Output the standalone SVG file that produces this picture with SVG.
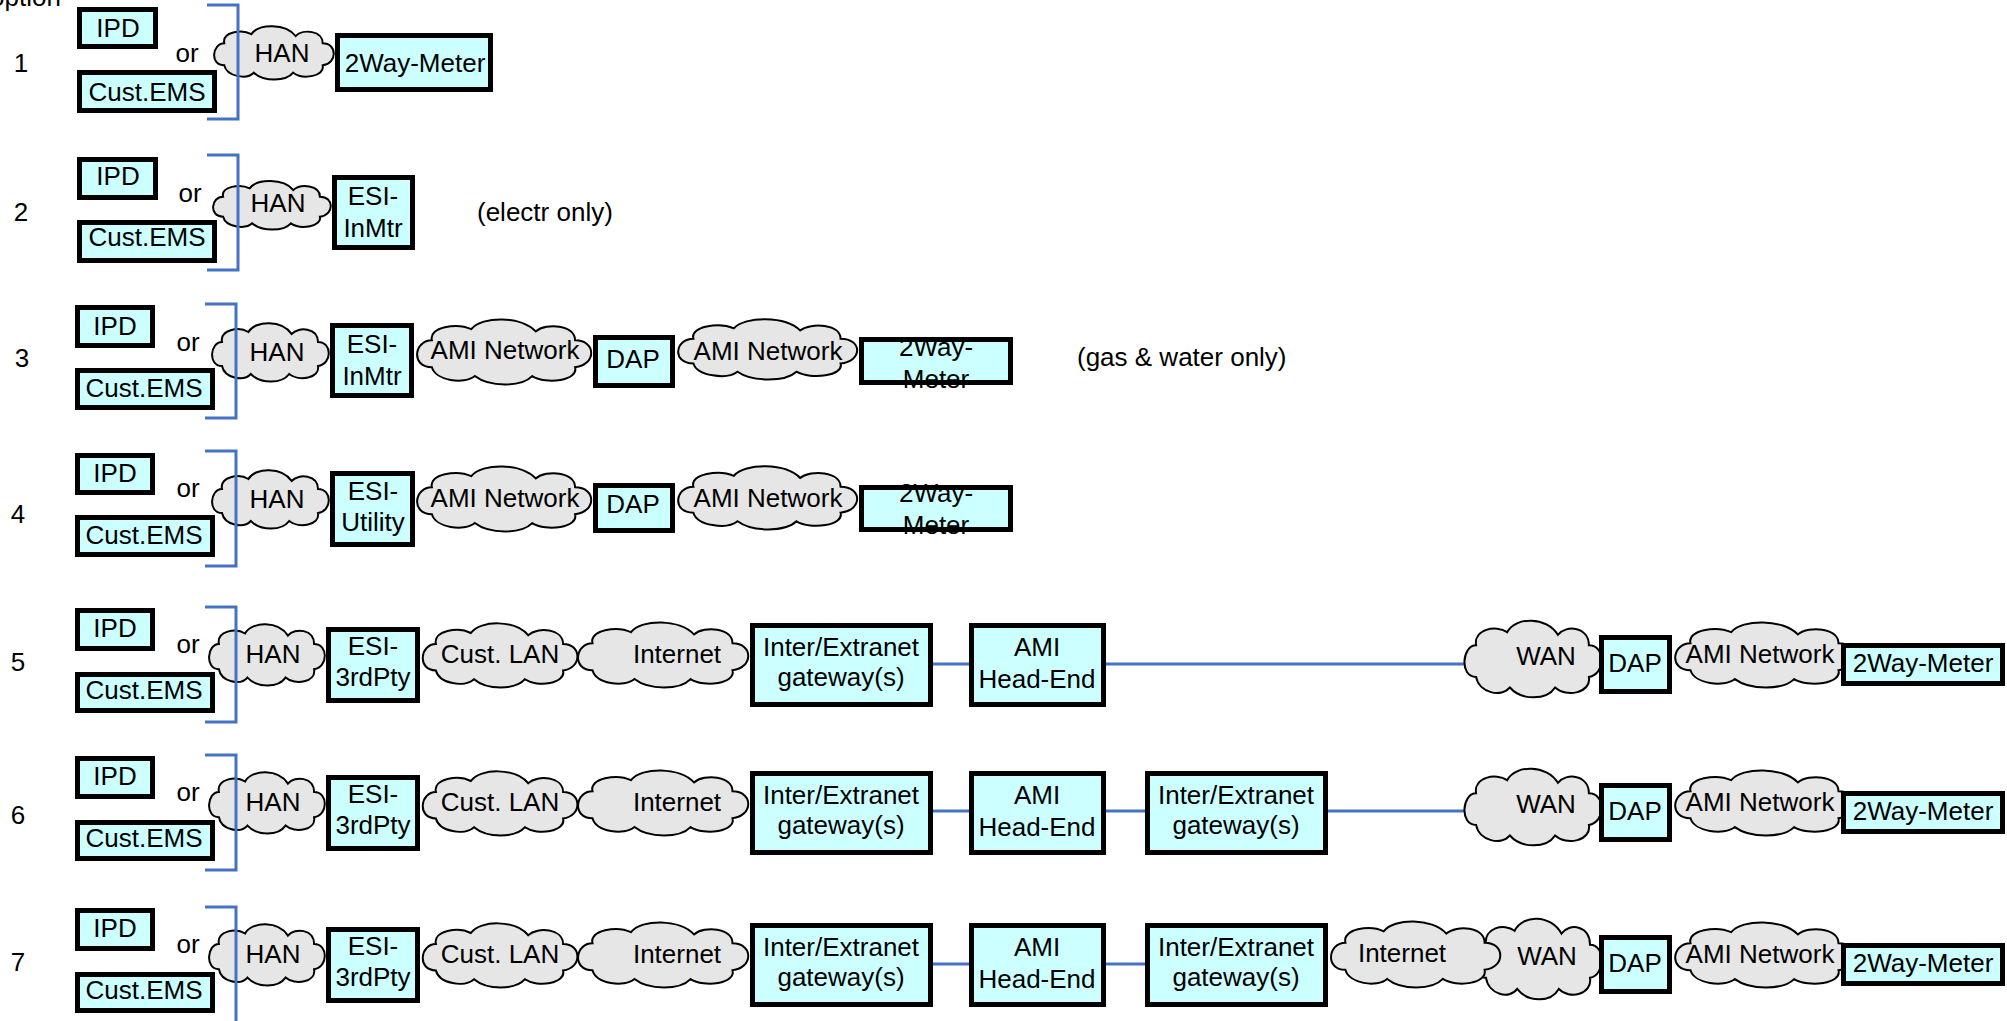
<svg xmlns="http://www.w3.org/2000/svg" xmlns:xlink="http://www.w3.org/1999/xlink" width="2007" height="1021" viewBox="0 0 2007 1021">
<style>
text{font-family:"Liberation Sans",Arial,sans-serif;font-size:26px;fill:#000}
.c{text-anchor:middle}
.box{fill:#CCFFFF;stroke:#000;stroke-width:5}
.fillonly{fill:#CCFFFF;stroke:none}
.outline{fill:none;stroke:#000;stroke-width:5}
.link{stroke:#4472C4;stroke-width:3;fill:none}
.brk{stroke:#4472C4;stroke-width:3;fill:none}
</style>
<defs>
<path id="cloud" fill="#E6E6E6" stroke="#000" stroke-width="2" vector-effect="non-scaling-stroke" d="M10,20 C0,20 -2,44 10,44 C12,56 28,60 34,52 C42,62 60,62 66,52 C74,60 92,56 90,44 C102,42 102,20 90,20 C90,6 74,4 68,12 C60,-2 38,-2 32,10 C24,4 8,8 10,20 Z"/>
</defs>
<rect width="2007" height="1021" fill="#fff"/>
<text x="-10" y="6">option</text>

<g id="connectors">
<line class="link" x1="933" y1="664" x2="969" y2="664"/>
<line class="link" x1="1106" y1="664" x2="1464" y2="664"/>
<line class="link" x1="933" y1="811" x2="969" y2="811"/>
<line class="link" x1="1106" y1="811" x2="1145" y2="811"/>
<line class="link" x1="1328" y1="811" x2="1464" y2="811"/>
<line class="link" x1="933" y1="964" x2="969" y2="964"/>
<line class="link" x1="1106" y1="964" x2="1145" y2="964"/>
</g>

<!-- Row 1 -->
<text x="21" y="72" class="c">1</text>
<text x="187" y="62" class="c">or</text>
<g id="r1-han"><use xlink:href="#cloud" transform="translate(212,25) scale(1.23,0.917)"/><text x="282" y="62" class="c">HAN</text></g>
<g id="r1-ipd"><rect class="box" x="79.5" y="9.5" width="76" height="37"/><text x="118" y="37" class="c">IPD</text></g>
<g id="r1-ems"><rect class="box" x="79.5" y="72.5" width="135" height="38"/><text x="147" y="101" class="c">Cust.EMS</text></g>
<g id="r1-meter"><rect class="box" x="337.5" y="35.5" width="153" height="54"/><text x="415" y="72" class="c">2Way-Meter</text></g>

<!-- Row 2 -->
<text x="21" y="221" class="c">2</text>
<text x="190" y="202" class="c">or</text>
<text x="477" y="221">(electr only)</text>
<g id="r2-han"><use xlink:href="#cloud" transform="translate(211,180) scale(1.21,0.833)"/><text x="278" y="212" class="c">HAN</text></g>
<g id="r2-ipd"><rect class="box" x="79.5" y="159.5" width="76" height="38"/><text x="118" y="185" class="c">IPD</text></g>
<g id="r2-ems"><rect class="box" x="79.5" y="222.5" width="135" height="38"/><text x="147" y="246" class="c">Cust.EMS</text></g>
<g id="r2-esi"><rect class="box" x="334.5" y="177.5" width="78" height="70"/><text x="373" y="205" class="c">ESI-</text><text x="373" y="237" class="c">InMtr</text></g>

<!-- Row 3 -->
<text x="22" y="367" class="c">3</text>
<text x="188" y="351" class="c">or</text>
<text x="1077" y="366">(gas &amp; water only)</text>
<g id="r3-han"><use xlink:href="#cloud" transform="translate(210,322) scale(1.2,1.0)"/><text x="277" y="361" class="c">HAN</text></g>
<g id="r3-ami1"><use xlink:href="#cloud" transform="translate(414,318) scale(1.79,1.117)"/><text x="505" y="359" class="c">AMI Network</text></g>
<g id="r3-ami2"><use xlink:href="#cloud" transform="translate(675,318) scale(1.84,1.033)"/><text x="768" y="360" class="c">AMI Network</text></g>
<g id="r3-ipd"><rect class="box" x="77.5" y="307.5" width="75" height="38"/><text x="115" y="335" class="c">IPD</text></g>
<g id="r3-ems"><rect class="box" x="77.5" y="370.5" width="135" height="37"/><text x="144" y="397" class="c">Cust.EMS</text></g>
<g id="r3-esi"><rect class="box" x="332.5" y="325.5" width="79" height="70"/><text x="372" y="353" class="c">ESI-</text><text x="372" y="385" class="c">InMtr</text></g>
<g id="r3-dap"><rect class="box" x="595.5" y="337.5" width="77" height="48"/><text x="633" y="368" class="c">DAP</text></g>
<g id="r3-meter"><rect class="fillonly" x="861.5" y="339.5" width="149" height="43"/><text x="936" y="356" class="c">2Way-</text><text x="936" y="388" class="c">Meter</text><rect class="outline" x="861.5" y="339.5" width="149" height="43"/></g>

<!-- Row 4 -->
<text x="18" y="523" class="c">4</text>
<text x="188" y="497" class="c">or</text>
<g id="r4-han"><use xlink:href="#cloud" transform="translate(210,469) scale(1.2,1.0)"/><text x="277" y="508" class="c">HAN</text></g>
<g id="r4-ami1"><use xlink:href="#cloud" transform="translate(414,465) scale(1.79,1.117)"/><text x="505" y="507" class="c">AMI Network</text></g>
<g id="r4-ami2"><use xlink:href="#cloud" transform="translate(675,465) scale(1.84,1.083)"/><text x="768" y="507" class="c">AMI Network</text></g>
<g id="r4-ipd"><rect class="box" x="77.5" y="455.5" width="75" height="37"/><text x="115" y="482" class="c">IPD</text></g>
<g id="r4-ems"><rect class="box" x="77.5" y="517.5" width="135" height="37"/><text x="144" y="544" class="c">Cust.EMS</text></g>
<g id="r4-esi"><rect class="box" x="332.5" y="473.5" width="80" height="71"/><text x="373" y="500" class="c">ESI-</text><text x="373" y="531" class="c">Utility</text></g>
<g id="r4-dap"><rect class="box" x="595.5" y="485.5" width="77" height="45"/><text x="633" y="513" class="c">DAP</text></g>
<g id="r4-meter"><rect class="fillonly" x="861.5" y="487.5" width="149" height="42"/><text x="936" y="502" class="c">2Way-</text><text x="936" y="534" class="c">Meter</text><rect class="outline" x="861.5" y="487.5" width="149" height="42"/></g>

<!-- Row 5 -->
<text x="18" y="671" class="c">5</text>
<text x="188" y="653" class="c">or</text>
<g id="r5-han"><use xlink:href="#cloud" transform="translate(207,623) scale(1.19,1.05)"/><text x="273" y="663" class="c">HAN</text></g>
<g id="r5-lan"><use xlink:href="#cloud" transform="translate(420,622) scale(1.59,1.1)"/><text x="500" y="663" class="c">Cust. LAN</text></g>
<g id="r5-inet"><use xlink:href="#cloud" transform="translate(575,621) scale(1.75,1.117)"/><text x="677" y="663" class="c">Internet</text></g>
<g id="r5-wan"><use xlink:href="#cloud" transform="translate(1462,619) scale(1.41,1.317)"/><text x="1546" y="665" class="c">WAN</text></g>
<g id="r5-ami"><use xlink:href="#cloud" transform="translate(1672,621) scale(1.85,1.117)"/><text x="1760" y="663" class="c">AMI Network</text></g>
<g id="r5-ipd"><rect class="box" x="77.5" y="610.5" width="75" height="38"/><text x="115" y="637" class="c">IPD</text></g>
<g id="r5-ems"><rect class="box" x="77.5" y="674.5" width="135" height="36"/><text x="144" y="699" class="c">Cust.EMS</text></g>
<g id="r5-esi"><rect class="box" x="328.5" y="629.5" width="89" height="71"/><text x="373" y="655" class="c">ESI-</text><text x="373" y="686" class="c">3rdPty</text></g>
<g id="r5-gw"><rect class="box" x="752.5" y="625.5" width="178" height="79"/><text x="841" y="656" class="c">Inter/Extranet</text><text x="841" y="686" class="c">gateway(s)</text></g>
<g id="r5-he"><rect class="box" x="971.5" y="625.5" width="132" height="79"/><text x="1037" y="656" class="c">AMI</text><text x="1037" y="688" class="c">Head-End</text></g>
<g id="r5-dap"><rect class="box" x="1601.5" y="637.5" width="68" height="54"/><text x="1635" y="672" class="c">DAP</text></g>
<g id="r5-meter"><rect class="box" x="1843.5" y="645.5" width="159" height="38"/><text x="1923" y="672" class="c">2Way-Meter</text></g>

<!-- Row 6 -->
<text x="18" y="824" class="c">6</text>
<text x="188" y="801" class="c">or</text>
<g id="r6-han"><use xlink:href="#cloud" transform="translate(207,771) scale(1.19,1.05)"/><text x="273" y="811" class="c">HAN</text></g>
<g id="r6-lan"><use xlink:href="#cloud" transform="translate(420,770) scale(1.59,1.1)"/><text x="500" y="811" class="c">Cust. LAN</text></g>
<g id="r6-inet"><use xlink:href="#cloud" transform="translate(575,769) scale(1.75,1.117)"/><text x="677" y="811" class="c">Internet</text></g>
<g id="r6-wan"><use xlink:href="#cloud" transform="translate(1462,767) scale(1.41,1.317)"/><text x="1546" y="813" class="c">WAN</text></g>
<g id="r6-ami"><use xlink:href="#cloud" transform="translate(1672,769) scale(1.85,1.117)"/><text x="1760" y="811" class="c">AMI Network</text></g>
<g id="r6-ipd"><rect class="box" x="77.5" y="758.5" width="75" height="38"/><text x="115" y="785" class="c">IPD</text></g>
<g id="r6-ems"><rect class="box" x="77.5" y="822.5" width="135" height="36"/><text x="144" y="847" class="c">Cust.EMS</text></g>
<g id="r6-esi"><rect class="box" x="328.5" y="777.5" width="89" height="71"/><text x="373" y="803" class="c">ESI-</text><text x="373" y="834" class="c">3rdPty</text></g>
<g id="r6-gw1"><rect class="box" x="752.5" y="773.5" width="178" height="79"/><text x="841" y="804" class="c">Inter/Extranet</text><text x="841" y="834" class="c">gateway(s)</text></g>
<g id="r6-he"><rect class="box" x="971.5" y="773.5" width="132" height="79"/><text x="1037" y="804" class="c">AMI</text><text x="1037" y="836" class="c">Head-End</text></g>
<g id="r6-gw2"><rect class="box" x="1147.5" y="773.5" width="178" height="79"/><text x="1236" y="804" class="c">Inter/Extranet</text><text x="1236" y="834" class="c">gateway(s)</text></g>
<g id="r6-dap"><rect class="box" x="1601.5" y="785.5" width="68" height="54"/><text x="1635" y="820" class="c">DAP</text></g>
<g id="r6-meter"><rect class="box" x="1843.5" y="793.5" width="159" height="38"/><text x="1923" y="820" class="c">2Way-Meter</text></g>

<!-- Row 7 -->
<text x="18" y="971" class="c">7</text>
<text x="188" y="953" class="c">or</text>
<g id="r7-han"><use xlink:href="#cloud" transform="translate(207,923) scale(1.19,1.05)"/><text x="273" y="963" class="c">HAN</text></g>
<g id="r7-lan"><use xlink:href="#cloud" transform="translate(420,922) scale(1.59,1.1)"/><text x="500" y="963" class="c">Cust. LAN</text></g>
<g id="r7-inet1"><use xlink:href="#cloud" transform="translate(575,921) scale(1.75,1.117)"/><text x="677" y="963" class="c">Internet</text></g>
<g id="r7-wan"><use xlink:href="#cloud" transform="translate(1473,917) scale(1.30,1.383)"/><text x="1547" y="965" class="c">WAN</text></g>
<g id="r7-inet2"><use xlink:href="#cloud" transform="translate(1328,920) scale(1.74,1.133)"/><text x="1402" y="962" class="c">Internet</text></g>
<g id="r7-ami"><use xlink:href="#cloud" transform="translate(1672,921) scale(1.85,1.117)"/><text x="1760" y="963" class="c">AMI Network</text></g>
<g id="r7-ipd"><rect class="box" x="77.5" y="910.5" width="75" height="38"/><text x="115" y="937" class="c">IPD</text></g>
<g id="r7-ems"><rect class="box" x="77.5" y="974.5" width="135" height="36"/><text x="144" y="999" class="c">Cust.EMS</text></g>
<g id="r7-esi"><rect class="box" x="328.5" y="929.5" width="89" height="71"/><text x="373" y="955" class="c">ESI-</text><text x="373" y="986" class="c">3rdPty</text></g>
<g id="r7-gw1"><rect class="box" x="752.5" y="925.5" width="178" height="79"/><text x="841" y="956" class="c">Inter/Extranet</text><text x="841" y="986" class="c">gateway(s)</text></g>
<g id="r7-he"><rect class="box" x="971.5" y="925.5" width="132" height="79"/><text x="1037" y="956" class="c">AMI</text><text x="1037" y="988" class="c">Head-End</text></g>
<g id="r7-gw2"><rect class="box" x="1147.5" y="925.5" width="178" height="79"/><text x="1236" y="956" class="c">Inter/Extranet</text><text x="1236" y="986" class="c">gateway(s)</text></g>
<g id="r7-dap"><rect class="box" x="1601.5" y="937.5" width="68" height="54"/><text x="1635" y="972" class="c">DAP</text></g>
<g id="r7-meter"><rect class="box" x="1843.5" y="945.5" width="159" height="38"/><text x="1923" y="972" class="c">2Way-Meter</text></g>

<g id="brackets">
<path class="brk" d="M207,5 H238 V119 H207"/>
<path class="brk" d="M207,155 H238 V270 H207"/>
<path class="brk" d="M205,304 H236 V418 H205"/>
<path class="brk" d="M205,451 H236 V566 H205"/>
<path class="brk" d="M205,607 H236 V722 H205"/>
<path class="brk" d="M205,755 H236 V870 H205"/>
<path class="brk" d="M205,907 H236 V1030"/>
</g>
</svg>
